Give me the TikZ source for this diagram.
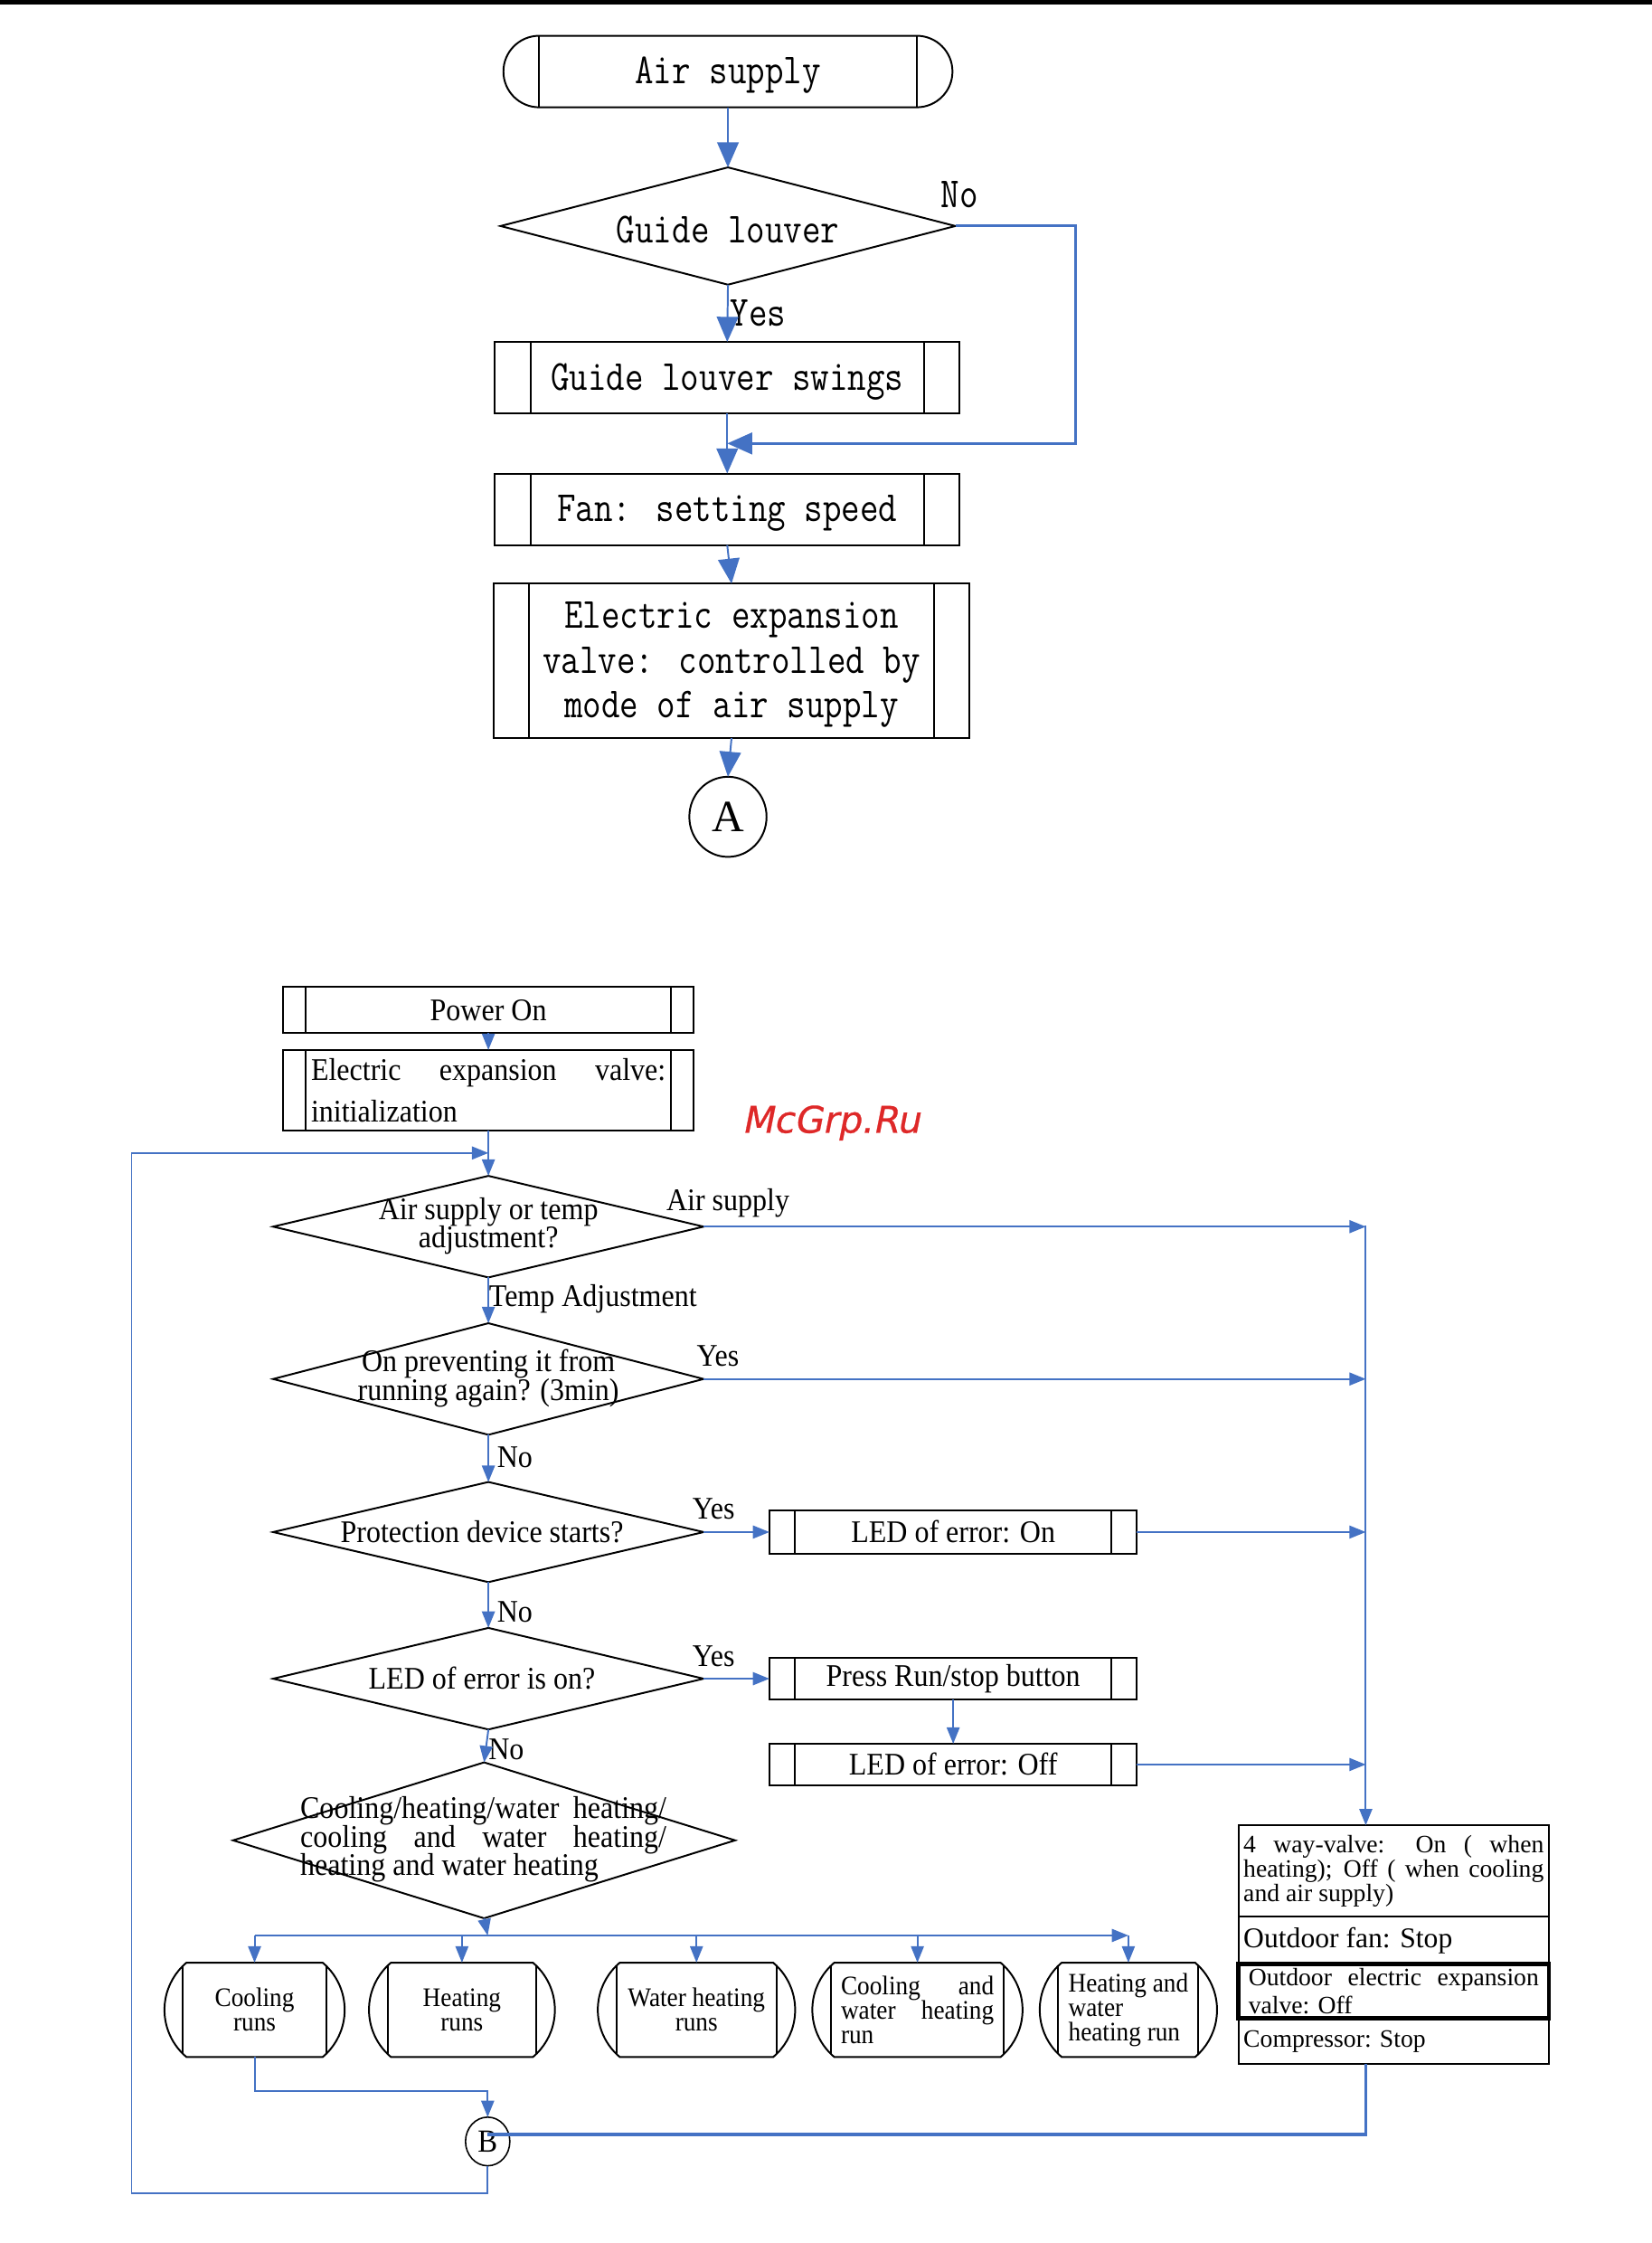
\documentclass[tikz,border=0pt]{standalone}
\usepackage{fontspec}
\setmainfont{Liberation Serif}
\newfontfamily\monof[FakeStretch=0.84]{Latin Modern Mono}
\newfontfamily\serc[FakeStretch=0.92]{Liberation Serif}
\newfontfamily\wmf[FakeSlant=0.2,FakeBold=0.6]{DejaVu Sans}
\usetikzlibrary{shapes.geometric,shapes.misc,arrows.meta}
\newdimen\uu \uu=0.4pt
\newcommand\nolsl{\lineskiplimit=-10pt\relax}
\definecolor{fblue}{RGB}{68,114,196}
\definecolor{wmred}{RGB}{222,40,40}
\tikzset{
  every node/.style={inner sep=0pt, outer sep=0pt},
  sz/.style 2 args={minimum width=#1\uu, minimum height=#2\uu},
  pbox/.style={draw, line width=0.5pt, rectangle,
    path picture={\draw[line width=0.5pt] ([xshift=#1]path picture bounding box.north west) -- ([xshift=#1]path picture bounding box.south west)
      ([xshift=-#1]path picture bounding box.north east) -- ([xshift=-#1]path picture bounding box.south east);}},
  term/.style 2 args={draw, line width=0.5pt, rounded rectangle, rounded rectangle arc length=#1,
    path picture={\draw[line width=0.5pt] ([xshift=#2]path picture bounding box.north west) -- ([xshift=#2]path picture bounding box.south west)
      ([xshift=-#2]path picture bounding box.north east) -- ([xshift=-#2]path picture bounding box.south east);}},
  dia/.style={draw, diamond, line width=0.5pt},
  monotext/.style={font={\monof\fontsize{12}{12.6}\selectfont\nolsl}, align=center, yshift=-1.1pt},
  btext/.style={font={\serc\fontsize{8.8}{8}\selectfont\nolsl}},
  rtext/.style={font={\serc\fontsize{7.5}{6.8}\selectfont\nolsl}},
  rbtext/.style={font={\fontsize{7}{6.8}\selectfont\nolsl}},
  arrT/.style={draw=fblue, line width=0.5pt, -{Triangle[length=7pt,width=6pt]}},
  arr/.style={draw=fblue, line width=0.5pt, -{Triangle[length=4.6pt,width=3.6pt]}},
}
\begin{document}
\begin{tikzpicture}[x=0.4pt,y=-0.4pt]
\useasboundingbox (0,0) rectangle (1155,1568);
\draw[line width=1.2pt] (0,1.5) -- (1155,1.5);
% ---------- top flow ----------
\node[term={180}{25\uu}, sz={314}{50}] (air) at (509,50) {};
\node[monotext] (airt) at (509,50) {Air supply};
\node[dia, sz={318}{82}] (gl) at (509,158) {};
\node[monotext] (glt) at (509,158) {Guide louver};
\node[pbox=25\uu, sz={325}{50}] (gls) at (508.5,264) {};
\node[monotext] (glst) at (508.5,264) {Guide louver swings};
\node[pbox=25\uu, sz={325}{50}] (fan) at (508.5,356) {};
\node[monotext] (fant) at (508.5,356) {Fan: setting speed};
\node[pbox=25\uu, sz={333}{108}] (eev) at (511.5,462) {};
\node[monotext] (eevt) at (511.5,462) {Electric expansion\\valve: controlled by\\mode of air supply};
\node[draw, ellipse, line width=0.5pt, sz={54}{56}, font=\fontsize{12.5}{12.5}\selectfont] (A) at (509,571) {A};
\node[monotext] (yes1) at (530,216) {Yes};
\node[monotext] (no1) at (671,133) {No};
\coordinate (nob) at (752,310);
\draw[arrT] (air.south) -- (gl.north);
\draw[arrT] (gl.south) -- (gls.north);
\draw[arrT, line width=0.8pt] (gl.east) -| (nob) -- (gls.south |- nob);
\draw[arrT] (gls.south) -- (fan.north);
\draw[arrT] (fan.south) -- (eev.north);
\draw[arrT] (eev.south) -- (A.north);
% ---------- bottom flow ----------
\node[pbox=16\uu, sz={287}{32}, btext] (pwr) at (341.5,706) {Power On};
\node[pbox=16\uu, sz={287}{56}, font=\serc\fontsize{8.8}{11.6}\selectfont, align=left] (init) at (341.5,762) {\makebox[248\uu][s]{Electric expansion valve:}\\initialization};
\node[font=\wmf\fontsize{10.3}{12}\selectfont, text=wmred] (wm) at (581,785) {McGrp.Ru};
\node[dia, sz={301}{71}] (d1) at (341.5,857.5) {};
\node[btext, align=center] (d1t) at (341.5,857) {Air supply or temp\\adjustment?};
\node[dia, sz={301}{78}] (d2) at (341.5,964) {};
\node[btext, align=center] (d2t) at (341.5,963.5) {On preventing it from\\running again? (3min)};
\node[dia, sz={301}{70}] (d3) at (341.5,1071) {};
\node[btext] (d3t) at (337,1071) {Protection device starts?};
\node[dia, sz={301}{71}] (d4) at (341.5,1173.5) {};
\node[btext] (d4t) at (337,1173) {LED of error is on?};
\node[dia, sz={351}{109}] (d5) at (338.5,1286.5) {};
\node[btext, align=left] (d5t) at (338,1286) {\makebox[256\uu][s]{Cooling/heating/water heating/}\\\makebox[256\uu][s]{cooling and water heating/}\\heating and water heating};
\node[pbox=18\uu, sz={257}{30}, btext] (ledon) at (666.5,1071) {LED of error: On};
\node[pbox=18\uu, sz={257}{29}, btext] (press) at (666.5,1173.5) {Press Run/stop button};
\node[pbox=18\uu, sz={257}{29}, btext] (ledoff) at (666.5,1233.5) {LED of error: Off};
% right box
\node[draw, line width=0.5pt, sz={217}{64}, rbtext] (s1) at (974.5,1308) {\parbox{210\uu}{\makebox[210\uu][s]{4 way-valve: On ( when}\\\makebox[210\uu][s]{heating); Off ( when cooling}\\and air supply)}};
\node[draw, line width=0.5pt, sz={217}{33}, font=\fontsize{8}{9}\selectfont] (s2) at (974.5,1356.5) {\parbox{210\uu}{Outdoor fan: Stop}};
\node[draw, line width=1.2pt, sz={217}{38}, font={\fontsize{7}{8}\selectfont\nolsl}] (s3) at (974.5,1392) {\parbox{203\uu}{\makebox[203\uu][s]{Outdoor electric expansion}\\valve: Off}};
\node[draw, line width=0.5pt, sz={217}{32}, rbtext] (s4) at (974.5,1427) {\parbox{210\uu}{Compressor: Stop}};
% runs
\node[term={100}{15\uu}, sz={126}{66}, rtext, align=center] (r1) at (178,1405) {Cooling\\runs};
\node[term={100}{15\uu}, sz={130}{66}, rtext, align=center] (r2) at (323,1405) {Heating\\runs};
\node[term={100}{15\uu}, sz={138}{66}, rtext, align=center] (r3) at (487,1405) {Water heating\\runs};
\node[term={100}{15\uu}, sz={147}{66}, rtext, align=left] (r4) at (641.5,1405) {\makebox[107\uu][s]{Cooling and}\\\makebox[107\uu][s]{water heating}\\run};
\node[term={100}{15\uu}, sz={124}{66}, rtext, align=left] (r5) at (789,1405) {Heating and\\water\\heating run};
\node[draw, ellipse, line width=0.4pt, sz={31}{34}, font=\serc\fontsize{9}{9}\selectfont] (B) at (341,1497) {B};
% labels
\node[btext] (l1) at (509,841) {Air supply};
\node[btext, anchor=west] (l2) at (342,908) {Temp Adjustment};
\node[btext] (l3) at (502,948) {Yes};
\node[btext] (l4) at (360,1019) {No};
\node[btext] (l5) at (499,1055) {Yes};
\node[btext] (l6) at (360,1127) {No};
\node[btext] (l7) at (499,1158) {Yes};
\node[btext] (l8) at (354,1223) {No};
% connectors
\coordinate (lp1) at (92,1533);
\coordinate (lp2) at (92,806);
\coordinate (bx) at (955,857);
\coordinate (bus) at (341,1353);
\coordinate (cj) at (341,1462);
\coordinate (bR) at (955,1492);
\draw[arr] (pwr.south) -- (init.north);
\draw[arr] (init.south) -- (d1.north);
\draw[arr] (B.south) |- (lp1) -- (lp2) -- (lp2 -| init.south);
\draw[arr] (d1.south) -- (d2.north);
\draw[arr] (d2.south) -- (d3.north);
\draw[arr] (d3.south) -- (d4.north);
\draw[arr] (d4.south) -- (d5.north);
\draw[arr] (d3.east) -- (ledon.west);
\draw[arr] (d4.east) -- (press.west);
\draw[arr] (press.south) -- (ledoff.north);
\draw[arr] (d1.east) -- (d1.east -| bx);
\draw[arr] (d2.east) -- (d2.east -| bx);
\draw[arr] (ledon.east) -- (ledon.east -| bx);
\draw[arr] (ledoff.east) -- (ledoff.east -| bx);
\draw[arr] (bx) -- (bx |- s1.north);
\draw[arr] (d5.south) -- (bus);
\draw[arr] (r1.north |- bus) -- (r5.north |- bus);
\foreach \r in {r1,r2,r3,r4,r5} \draw[arr] (\r.north |- bus) -- (\r.north);
\draw[arr] (r1.south) |- (cj) -- (B.north);
\draw[fblue, line width=0.9pt] (B.center |- bR) -- (bR) -- (bR |- s4.south);
\end{tikzpicture}
\end{document}
